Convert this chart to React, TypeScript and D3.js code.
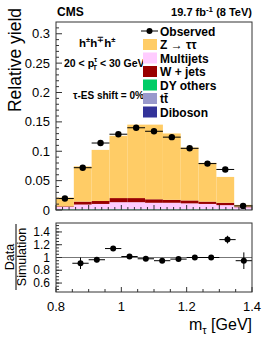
import * as d3 from "d3";

// main panel: 11 bins across the frame
const observed = [0.0195, 0.072, 0.114, 0.129, 0.140, 0.134, 0.124, 0.105, 0.079, 0.069, 0.007];
const observedErr = [0.002, 0.002, 0.002, 0.002, 0.002, 0.002, 0.002, 0.002, 0.002, 0.002, 0.001];

const ztt = [0.015, 0.060, 0.087, 0.106, 0.125, 0.127, 0.113, 0.090, 0.066, 0.044, 0.003];
const multijets = [0.004, 0.008, 0.009, 0.012, 0.012, 0.011, 0.011, 0.010, 0.009, 0.007, 0.004];
const wjets = [0.001, 0.005, 0.005, 0.007, 0.007, 0.006, 0.005, 0.005, 0.004, 0.004, 0.001];
const dyOthers = [0.001, 0.001, 0.001, 0.001, 0.001, 0.001, 0.001, 0.001, 0.001, 0.001, 0.0005];
const ttbar = [0.0002, 0.0002, 0.0002, 0.0002, 0.0002, 0.0002, 0.0002, 0.0002, 0.0002, 0.0002, 0.0001];
const diboson = [0.0001, 0.0001, 0.0001, 0.0001, 0.0001, 0.0001, 0.0001, 0.0001, 0.0001, 0.0001, 0.0001];

// ratio panel
const ratioX = [0.875, 0.925, 0.975, 1.025, 1.075, 1.125, 1.175, 1.225, 1.275, 1.325, 1.375];
const ratio = [0.91, 0.965, 1.14, 1.015, 0.98, 0.95, 0.975, 1.0, 1.0, 1.28, 0.95];
const ratioErr = [0.09, 0.04, 0.03, 0.02, 0.02, 0.02, 0.02, 0.02, 0.03, 0.06, 0.13];

const mainTicks = [0, 0.05, 0.1, 0.15, 0.2, 0.25, 0.3];
const mainTickLabels = ["0", "0.05", "0.1", "0.15", "0.2", "0.25", "0.3"];
const ratioTicks = [0.6, 0.8, 1, 1.2, 1.4];
const ratioTickLabels = ["0.6", "0.8", "1", "1.2", "1.4"];
const xTicks = [0.8, 1, 1.2, 1.4];
const xTickLabels = ["0.8", "1", "1.2", "1.4"];

const stackKeys = ["diboson", "ttbar", "dyOthers", "multijets", "wjets", "ztt"];
const colors: Record<string, string> = {
  ztt: "#ffcc66",
  multijets: "#ffccff",
  wjets: "#990000",
  dyOthers: "#00cc66",
  ttbar: "#9999cc",
  diboson: "#333399",
};
const legendItems = [
  { key: "ztt", label: "Z  \u2192  \u03c4\u03c4" },
  { key: "multijets", label: "Multijets" },
  { key: "wjets", label: "W + jets" },
  { key: "dyOthers", label: "DY others" },
  { key: "ttbar", label: "tt\u0304" },
  { key: "diboson", label: "Diboson" },
];

const font = "'Liberation Sans', Arial, Helvetica, sans-serif";
const frame = "#333";

export default function App() {
  const mainL = 56, mainR = 252, mainT = 22, mainB = 210;
  const ratT = 223, ratB = 292;
  const nBins = observed.length;

  const xAxis = d3.scaleLinear().domain([0.8, 1.4]).range([mainL, mainR]);
  const xBin = d3.scaleLinear().domain([0, nBins]).range([mainL, mainR]);
  const yMain = d3.scaleLinear().domain([0, 0.32]).range([mainB, mainT]);
  const yRatio = d3.scaleLinear().domain([0.46, 1.54]).range([ratB, ratT]);

  const rows = d3.range(nBins).map((i) => ({
    ztt: ztt[i], multijets: multijets[i], wjets: wjets[i],
    dyOthers: dyOthers[i], ttbar: ttbar[i], diboson: diboson[i],
  }));
  const series = d3.stack<any>().keys(stackKeys)(rows);

  const mainMinor = d3.range(0, 0.32, 0.01);
  const ratioMinor = d3.range(0.5, 1.54, 0.05);
  const xMinor = d3.range(0.8, 1.401, 0.05);
  const mainXMinor = d3.range(0.8, 1.401, 0.02);

  return (
    <div style={{ position: "absolute", left: 0, top: 0 }}>
      <svg width={266} height={337} style={{ display: "block", background: "#fff" }} fontFamily={font}>
        {/* stacked histogram */}
        {series.map((s) => (
          <g key={s.key} fill={colors[s.key]}>
            {s.map((d, i) => (
              <rect key={i} x={xBin(i)} width={xBin(i + 1) - xBin(i)}
                y={yMain(d[1])} height={Math.max(0, yMain(d[0]) - yMain(d[1]))} />
            ))}
          </g>
        ))}

        {/* observed */}
        <g stroke="#000" strokeWidth={1}>
          {observed.map((v, i) => {
            const cx = (xBin(i) + xBin(i + 1)) / 2;
            return (
              <g key={i}>
                <line x1={xBin(i)} x2={xBin(i + 1)} y1={yMain(v)} y2={yMain(v)} />
                <line x1={cx} x2={cx} y1={yMain(v - observedErr[i])} y2={yMain(v + observedErr[i])} />
                <circle cx={cx} cy={yMain(v)} r={3.2} fill="#000" stroke="none" />
              </g>
            );
          })}
        </g>

        {/* main frame */}
        <rect x={mainL} y={mainT} width={mainR - mainL} height={mainB - mainT} fill="none" stroke={frame} />
        {mainMinor.map((t, i) => (
          <line key={i} x1={mainL} x2={mainL + (i % 5 === 0 ? 6 : 3)} y1={yMain(t)} y2={yMain(t)} stroke={frame} />
        ))}
        {mainXMinor.map((t, i) => (
          <line key={i} x1={xAxis(t)} x2={xAxis(t)} y1={mainB} y2={mainB - (i % 5 === 0 ? 5 : 3)} stroke={frame} />
        ))}
        {mainTicks.map((t, i) => (
          <text key={i} x={50} y={yMain(t) + 4.5} textAnchor="end" fontSize={13}>{mainTickLabels[i]}</text>
        ))}
        <text transform="translate(21,8) rotate(-90)" textAnchor="end" fontSize={17.5}>Relative yield</text>

        {/* header */}
        <text x={57} y={16} fontSize={12} fontWeight="bold">CMS</text>
        <text x={252} y={16} fontSize={11} fontWeight="bold" textAnchor="end">
          19.7 fb<tspan dy={-4} fontSize={8}>-1</tspan><tspan dy={4}> (8 TeV)</tspan>
        </text>

        {/* in-plot labels */}
        <text x={79} y={47} fontSize={11.5} fontWeight="bold">
          h<tspan dy={-5} fontSize={7.5}>{"\u00b1"}</tspan>
          <tspan dy={5}>h</tspan><tspan dy={-5} fontSize={7.5}>{"\u2213"}</tspan>
          <tspan dy={5}>h</tspan><tspan dy={-5} fontSize={7.5}>{"\u00b1"}</tspan>
        </text>
        <text x={64} y={67} fontSize={10.5} fontWeight="bold">
          {"20 < p"}
          <tspan dy={-5} fontSize={7}>{"\u03c4"}</tspan>
          <tspan dx={-4.5} dy={8} fontSize={7}>T</tspan>
          <tspan dy={-3}>{" < 30 GeV"}</tspan>
        </text>
        <text x={73} y={99} fontSize={10} fontWeight="bold">{"\u03c4-ES shift = 0%"}</text>

        {/* legend */}
        <g fontSize={12} fontWeight="bold">
          <line x1={141} x2={158} y1={31} y2={31} stroke="#000" />
          <circle cx={149.5} cy={31} r={3} fill="#000" />
          <text x={160} y={35.5}>Observed</text>
          {legendItems.map((d, i) => {
            const cy = 44.5 + i * 13.5;
            return (
              <g key={d.key}>
                <rect x={143} y={cy - 5.5} width={14} height={11} fill={colors[d.key]} />
                <text x={160} y={cy + 4.5}>{d.label}</text>
              </g>
            );
          })}
        </g>

        {/* ratio panel */}
        <line x1={mainL} x2={mainR} y1={yRatio(1)} y2={yRatio(1)} stroke="#777" />
        <g stroke="#000" strokeWidth={1}>
          {ratio.map((v, i) => (
            <g key={i}>
              <line x1={xAxis(ratioX[i] - 0.025)} x2={xAxis(ratioX[i] + 0.025)} y1={yRatio(v)} y2={yRatio(v)} />
              <line x1={xAxis(ratioX[i])} x2={xAxis(ratioX[i])} y1={yRatio(v - ratioErr[i])} y2={yRatio(v + ratioErr[i])} />
              <circle cx={xAxis(ratioX[i])} cy={yRatio(v)} r={3} fill="#000" stroke="none" />
            </g>
          ))}
        </g>
        <rect x={mainL} y={ratT} width={mainR - mainL} height={ratB - ratT} fill="none" stroke={frame} />
        {ratioMinor.map((t, i) => (
          <line key={i} x1={mainL} x2={mainL + 3} y1={yRatio(t)} y2={yRatio(t)} stroke={frame} />
        ))}
        {ratioTicks.map((t, i) => (
          <line key={i} x1={mainL} x2={mainL + 6} y1={yRatio(t)} y2={yRatio(t)} stroke={frame} />
        ))}
        {ratioTicks.map((t, i) => (
          <text key={i} x={50} y={yRatio(t) + 4} textAnchor="end" fontSize={12}>{ratioTickLabels[i]}</text>
        ))}
        {xMinor.map((t, i) => (
          <line key={i} x1={xAxis(t)} x2={xAxis(t)} y1={ratB} y2={ratB - (i % 4 === 0 ? 5 : 3)} stroke={frame} />
        ))}
        {xTicks.map((t, i) => (
          <text key={i} x={xAxis(t)} y={311} textAnchor="middle" fontSize={13}>{xTickLabels[i]}</text>
        ))}
        <text x={252} y={330} textAnchor="end" fontSize={16}>
          m<tspan dy={4} fontSize={11}>{"\u03c4"}</tspan><tspan dy={-4}>{" [GeV]"}</tspan>
        </text>

        {/* ratio y label */}
        <g transform="translate(16,257) rotate(-90)" fontSize={12.5}>
          <text x={0} y={-2.5} textAnchor="middle">Data</text>
          <line x1={-33} x2={33} y1={0} y2={0} stroke="#000" />
          <text x={0} y={10} textAnchor="middle">Simulation</text>
        </g>
      </svg>
    </div>
  );
}
